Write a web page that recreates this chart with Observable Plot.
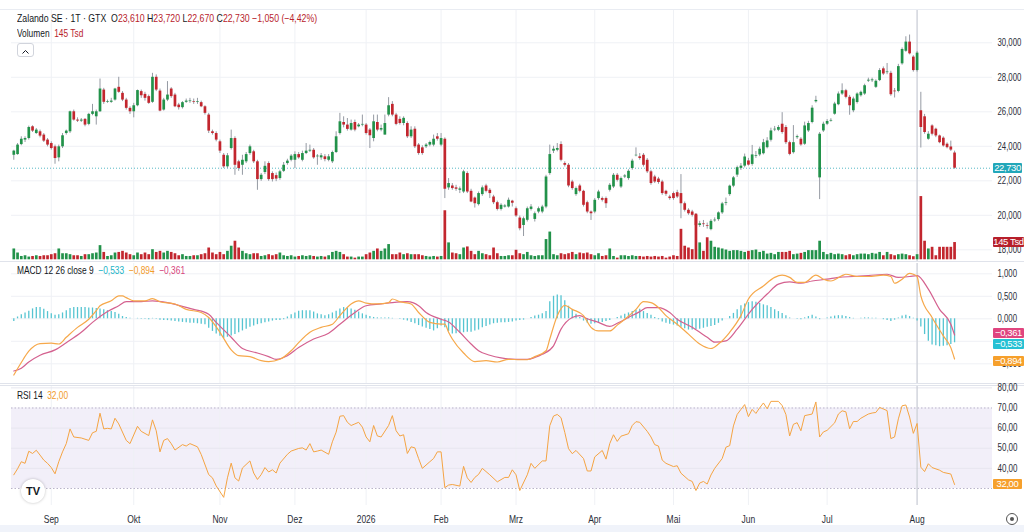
<!DOCTYPE html>
<html><head><meta charset="utf-8">
<script src="https://cdn.jsdelivr.net/npm/d3@7"></script>
<script src="https://cdn.jsdelivr.net/npm/@observablehq/plot@0.6"></script>
<style>
html,body{margin:0;padding:0;background:#fff;}
#root{position:relative;width:1024px;height:532px;overflow:hidden;background:#fff;
 font-family:"Liberation Sans",Arial,sans-serif;color:#131722;}
.hdr{position:absolute;left:17px;white-space:nowrap;font-size:11px;line-height:13px;transform:scaleX(0.76);transform-origin:0 0;}
.red{color:#b8232c;}
.box{position:absolute;left:993px;width:29px;height:10px;line-height:10px;font-size:9.5px;letter-spacing:-0.4px;color:#fff;text-align:center;border-radius:1px;white-space:nowrap;overflow:hidden;}
.sep{position:absolute;left:0;width:1024px;height:1px;background:#e0e3eb;}
</style></head>
<body><div id="root"></div>
<script>
// ---------- data (Zalando SE, daily, GTX) ----------
const candleOpen = [
23.48,23.52,24.10,24.36,24.45,25.13,24.74,24.84,24.65,24.36,
24.16,23.97,23.33,23.97,24.74,24.84,26.00,25.52,25.46,25.56,
25.27,25.85,25.71,26.00,27.26,26.55,26.55,26.68,27.42,27.07,
26.68,26.20,26.00,26.35,27.17,27.01,26.88,26.55,28.00,27.20,
26.10,26.68,27.32,26.97,26.39,26.24,26.55,26.59,26.59,26.55,
26.53,26.29,25.81,24.84,24.74,24.26,23.48,22.81,23.87,24.45,
23.10,22.90,23.10,23.58,23.68,23.10,22.07,22.48,23.00,22.42,
22.30,22.13,22.55,23.00,23.19,23.19,23.52,23.19,23.58,23.72,
23.77,23.39,23.33,23.39,23.19,23.10,23.64,24.74,25.38,25.23,
24.94,25.38,25.13,25.23,25.23,24.94,24.45,25.38,24.94,24.65,
25.81,26.43,25.81,25.56,25.32,25.32,24.55,24.99,24.07,23.91,
23.97,24.07,24.07,24.55,24.07,24.41,21.59,21.70,21.59,21.45,
21.35,22.42,21.39,21.00,20.62,21.20,21.70,21.45,21.06,20.73,
20.34,20.48,20.48,20.82,20.38,19.84,19.41,19.71,20.34,19.76,
20.19,20.19,20.48,22.42,23.72,23.77,24.10,23.00,22.90,21.93,
21.20,21.70,21.39,20.73,20.19,20.19,20.97,20.97,20.97,21.45,
21.64,22.32,21.64,22.22,22.13,22.71,23.45,23.39,23.48,23.19,
22.52,22.22,22.10,21.93,21.39,21.06,21.26,21.31,21.26,20.67,
20.29,20.19,20.00,19.41,19.50,19.40,19.17,19.68,19.75,20.14,
20.70,21.20,21.69,22.33,22.72,22.85,23.15,22.95,23.42,23.50,
23.57,23.92,24.35,24.95,24.93,25.28,25.09,24.21,23.63,24.50,
24.41,24.12,24.89,25.38,26.58,22.17,24.89,25.28,25.46,25.86,
26.41,27.03,27.22,26.84,26.06,26.54,26.93,27.03,27.78,27.80,
27.42,27.81,28.49,28.27,28.23,27.20,27.18,28.78,29.51,30.04,
29.17,28.39,26.06,25.71,24.41,25.18,24.99,24.60,24.47,24.12,
23.96,23.61];
const candleHigh = [
23.77,24.16,24.55,24.55,25.17,25.19,25.03,24.94,24.74,24.45,
24.26,24.07,24.07,24.74,24.94,26.04,26.10,25.65,25.61,25.61,
25.91,26.43,26.10,27.90,27.36,26.68,26.78,27.36,28.00,27.17,
26.78,26.29,26.49,27.26,27.26,27.13,26.97,28.23,28.14,27.32,
26.78,27.75,27.40,27.07,26.49,26.59,26.74,26.78,26.74,26.78,
26.62,26.35,25.91,24.94,24.84,24.36,23.58,23.58,24.94,24.55,
23.19,23.48,23.64,24.07,23.77,23.19,22.42,23.10,23.10,22.52,
22.45,22.61,23.06,23.25,23.52,23.68,23.64,23.72,24.16,24.07,
23.87,23.52,23.58,23.52,23.52,23.72,24.84,25.91,25.71,25.61,
25.52,25.52,25.32,25.81,25.32,25.03,25.81,25.81,25.23,25.81,
26.82,26.59,25.91,25.71,25.71,25.42,25.13,25.13,24.16,24.03,
24.16,24.30,24.65,24.74,24.74,24.49,22.13,21.84,21.74,21.64,
22.61,22.52,21.51,21.06,21.35,21.70,21.80,21.55,21.16,20.82,
20.67,20.62,21.00,20.87,20.48,19.96,19.90,20.48,20.62,20.19,
20.48,20.58,22.32,24.07,24.00,24.16,24.26,23.10,23.00,22.03,
21.64,21.80,21.45,20.82,20.25,20.97,21.45,21.06,21.06,21.84,
22.42,22.42,22.22,22.36,22.64,23.25,23.91,23.58,23.58,23.29,
22.61,22.32,22.20,22.03,21.45,21.16,21.35,21.45,22.36,20.77,
20.38,20.29,20.10,19.65,19.70,19.55,19.75,19.85,20.20,20.75,
21.00,21.75,22.25,22.85,23.00,23.55,23.30,24.05,23.70,23.95,
24.40,24.50,25.05,25.15,25.20,25.95,25.20,24.30,25.20,24.65,
24.50,25.40,25.45,26.35,26.90,24.80,25.40,25.55,25.60,26.55,
27.15,27.62,27.30,26.95,26.85,27.10,27.20,27.60,27.95,27.95,
27.85,28.50,28.60,28.80,28.35,27.35,28.75,29.70,30.35,30.45,
29.25,29.50,27.13,25.85,24.85,25.25,25.05,24.65,24.55,24.20,
24.30,23.72];
const candleLow = [
23.19,23.48,24.03,24.22,24.36,24.80,24.69,24.49,24.22,23.97,
23.78,22.96,23.10,23.87,24.65,24.74,25.46,25.38,25.38,25.13,
25.19,25.77,25.23,25.97,26.43,26.49,26.49,26.62,27.07,26.59,
26.10,25.85,25.65,26.29,26.78,26.62,26.43,26.49,27.17,26.00,
26.04,26.59,26.78,26.24,26.10,26.16,26.49,26.49,26.43,26.43,
26.24,25.81,24.74,24.65,24.26,23.58,22.71,22.71,23.78,22.32,
22.55,22.32,23.00,23.48,23.00,21.45,21.97,22.36,21.97,21.93,
21.95,22.03,22.48,22.90,23.10,22.71,23.25,23.10,23.52,23.64,
23.25,22.90,23.19,23.10,23.10,23.00,23.58,24.65,25.07,24.88,
24.88,24.84,25.07,25.13,24.65,23.87,24.26,24.84,24.84,24.65,
25.71,25.71,25.19,25.23,25.19,24.45,24.45,23.87,23.48,23.48,
23.87,23.97,23.97,24.30,23.97,20.97,21.45,21.45,21.39,21.26,
21.26,21.26,20.73,20.42,20.54,21.10,21.30,20.97,20.62,20.25,
20.25,20.42,20.42,20.48,19.88,19.10,18.77,19.61,20.25,19.61,
20.09,20.09,20.38,22.32,23.58,23.68,23.10,22.80,21.60,21.45,
21.10,21.30,20.48,20.09,19.70,20.09,20.87,20.77,20.40,21.35,
21.55,21.93,21.55,22.13,22.03,22.61,23.39,23.19,22.80,22.42,
21.74,21.84,21.80,21.16,21.10,20.87,20.87,20.97,19.80,20.19,
20.00,19.90,19.30,19.30,19.30,19.20,19.10,19.60,19.65,20.05,
20.55,21.10,21.60,22.20,22.60,22.75,22.85,22.85,23.30,23.40,
23.50,23.85,24.25,24.85,24.85,24.70,24.10,23.45,23.55,24.40,
24.00,24.05,24.80,25.30,26.50,20.91,24.80,25.20,25.40,25.80,
26.35,26.95,26.75,25.80,25.95,26.45,26.85,26.95,27.70,27.70,
27.35,27.75,28.10,28.15,26.90,26.80,27.10,28.70,29.45,29.30,
28.30,28.30,23.90,24.70,24.35,24.60,24.50,24.15,23.95,23.85,
23.70,22.67];
const candleClose = [
23.72,24.07,24.41,24.45,25.09,24.88,24.94,24.59,24.30,24.07,
23.87,23.29,23.97,24.61,24.88,26.00,25.52,25.46,25.52,25.23,
25.85,26.00,26.00,27.32,26.55,26.59,26.62,27.32,27.13,26.68,
26.20,26.00,26.35,27.23,26.93,26.78,26.49,28.00,27.26,26.04,
26.68,26.97,26.88,26.29,26.24,26.53,26.62,26.63,26.55,26.59,
26.29,25.91,24.88,24.74,24.36,23.72,22.81,23.45,24.45,22.90,
22.71,23.19,23.52,23.97,23.10,22.07,22.32,22.84,22.07,22.07,
22.10,22.52,22.90,23.14,23.43,23.52,23.33,23.58,23.72,23.77,
23.33,23.43,23.45,23.23,23.39,23.64,24.55,25.42,25.23,24.98,
25.32,24.94,25.23,25.27,24.74,24.61,25.42,24.94,25.03,25.32,
26.35,25.81,25.27,25.32,25.62,24.55,24.94,23.97,23.58,23.58,
24.07,24.22,24.41,24.41,24.45,21.51,21.84,21.55,21.51,21.53,
22.52,21.35,20.77,20.67,21.26,21.59,21.39,21.26,20.73,20.34,
20.58,20.54,20.87,20.70,19.96,19.22,19.80,20.38,20.48,20.09,
20.38,20.48,22.22,23.52,23.83,23.87,23.19,22.90,21.70,21.55,
21.55,21.39,20.58,20.19,20.09,20.87,21.35,20.87,20.67,21.74,
22.32,22.03,22.13,22.28,22.55,23.14,23.48,23.29,22.90,22.52,
21.84,21.93,21.90,21.26,21.22,20.97,20.97,21.06,20.67,20.29,
20.09,20.00,19.40,19.51,19.46,19.36,19.65,19.72,20.14,20.66,
20.74,21.69,22.17,22.76,22.85,23.38,22.91,23.50,23.46,23.83,
24.21,24.31,24.89,24.99,25.09,24.80,24.21,23.53,24.21,24.56,
24.08,25.18,25.32,26.21,26.66,24.70,25.28,25.44,25.50,26.45,
27.03,27.22,26.84,26.35,26.74,27.03,27.13,27.51,27.83,27.85,
27.77,28.39,28.19,28.31,26.99,27.16,28.62,29.61,30.04,29.36,
28.39,29.40,25.09,24.80,24.70,24.70,24.60,24.21,24.02,23.92,
23.78,22.73];
const volumeTsd = [
91,57,28,34,23,28,34,28,34,34, 43,51,91,51,51,43,34,34,28,43,
43,51,57,119,62,28,34,57,62,71, 57,43,34,57,43,57,43,85,62,71,
57,71,62,51,34,43,28,28,34,34, 43,51,99,57,43,62,43,71,114,156,
99,71,51,43,51,51,28,34,43,34, 43,57,34,28,34,23,28,34,28,34,
28,23,28,23,34,62,71,62,43,23, 23,14,23,23,43,57,71,91,71,91,
128,43,43,57,43,51,43,43,43,34, 28,23,28,23,28,412,142,57,51,43,
99,108,71,43,71,51,43,34,99,51, 28,28,34,34,80,51,43,62,34,28,
34,34,170,233,43,34,51,43,51,62, 43,57,51,57,43,34,51,28,34,91,
28,14,34,34,28,34,28,28,23,28, 23,28,23,28,14,23,34,28,256,114,
99,85,383,142,71,185,156,105,99,91, 82,71,77,77,71,62,71,77,82,62,
71,48,54,43,62,62,62,71,43,48, 54,62,77,77,77,156,62,43,54,43,
48,43,34,43,34,43,48,48,43,54, 48,62,34,62,43,34,43,48,43,34,
26,43,531,156,91,105,34,105,105,105, 105,145];
const macdHistogram = [
-0.06,0.04,0.09,0.13,0.17,0.22,0.25,0.25,0.21,0.16,
0.11,0.08,0.09,0.13,0.18,0.23,0.25,0.25,0.25,0.25,
0.24,0.24,0.23,0.22,0.20,0.18,0.16,0.14,0.10,0.05,
0.03,0.01,0.00,0.01,-0.01,-0.01,-0.02,0.01,-0.01,-0.03,
-0.04,-0.04,-0.05,-0.06,-0.07,-0.08,-0.09,-0.10,-0.10,-0.11,
-0.12,-0.13,-0.21,-0.28,-0.34,-0.39,-0.44,-0.41,-0.38,-0.35,
-0.31,-0.27,-0.23,-0.19,-0.16,-0.13,-0.11,-0.09,-0.07,-0.05,
-0.04,-0.04,-0.02,0.04,0.09,0.13,0.17,0.18,0.18,0.18,
0.15,0.11,0.09,0.07,0.09,0.13,0.17,0.22,0.25,0.24,
0.22,0.19,0.15,0.11,0.08,0.05,0.03,0.02,0.02,0.02,
0.02,0.01,0.00,-0.01,-0.03,-0.05,-0.08,-0.11,-0.15,-0.18,
-0.21,-0.24,-0.27,-0.22,-0.16,-0.20,-0.28,-0.34,-0.33,-0.32,
-0.31,-0.30,-0.30,-0.27,-0.25,-0.20,-0.17,-0.14,-0.11,-0.10,
-0.09,-0.09,-0.08,-0.07,-0.05,-0.04,-0.03,0.00,0.03,0.06,
0.08,0.11,0.16,0.38,0.50,0.53,0.51,0.40,0.28,0.20,
0.10,0.03,-0.05,-0.10,-0.12,-0.11,-0.10,-0.08,-0.06,-0.04,
0.00,0.03,0.06,0.10,0.13,0.16,0.19,0.21,0.16,0.12,
0.08,0.03,-0.02,-0.07,-0.10,-0.12,-0.14,-0.16,-0.19,-0.22,
-0.25,-0.25,-0.24,-0.23,-0.21,-0.19,-0.17,-0.15,-0.10,-0.05,
0.00,0.05,0.12,0.20,0.29,0.33,0.36,0.38,0.37,0.34,
0.31,0.29,0.25,0.20,0.16,0.12,0.07,0.02,0.00,-0.01,
-0.02,0.02,0.05,0.08,0.04,-0.02,0.00,0.02,0.04,0.06,
0.07,0.07,0.05,0.03,0.01,0.00,0.01,0.02,0.02,0.01,
0.01,0.00,-0.02,-0.04,-0.06,-0.03,0.02,0.06,0.08,0.05,
0.01,-0.05,-0.18,-0.35,-0.50,-0.58,-0.60,-0.62,-0.61,-0.60,
-0.57,-0.533];
const macdDays = [0,2,4,7,10,12,14,17,20,22,23,26,28,29,30,32,35,37,39,43,46,50,52,55,58,60,63,66,68,71,74,76,79,82,85,87,90,92,94,97,100,101,103,106,108,111,114,115,116,117,120,123,126,129,132,135,137,139,142,143,145,147,149,152,154,156,159,161,163,166,168,170,172,174,177,180,183,186,188,191,194,196,200,203,205,207,209,211,214,216,218,221,222,225,228,232,234,235,237,239,240,241,242,245,248,250,251];
const macdLine = [-1.25,-0.97,-0.72,-0.55,-0.54,-0.56,-0.41,-0.19,-0.01,0.18,0.29,0.40,0.51,0.51,0.47,0.40,0.40,0.45,0.38,0.33,0.21,0.14,0.03,-0.30,-0.69,-0.82,-0.84,-0.93,-0.95,-0.90,-0.71,-0.53,-0.30,-0.19,-0.12,0.07,0.33,0.40,0.35,0.33,0.36,0.44,0.38,0.33,0.14,-0.08,-0.12,-0.12,-0.30,-0.45,-0.76,-0.95,-0.93,-0.96,-0.90,-0.91,-0.91,-0.84,-0.71,-0.45,0.07,0.30,0.21,0.07,-0.19,-0.27,-0.27,-0.14,-0.01,0.21,0.38,0.36,0.25,0.07,-0.12,-0.34,-0.56,-0.66,-0.56,-0.30,0.07,0.44,0.73,0.92,0.97,0.92,0.81,0.81,0.97,0.88,0.84,0.96,0.99,0.94,0.94,0.97,0.94,0.79,0.88,1.01,0.99,0.94,0.51,0.03,-0.38,-0.64,-0.894];
const signalDays = [0,2,4,7,11,14,18,21,25,28,30,34,37,41,44,48,52,54,58,61,65,68,70,73,76,80,84,87,91,94,98,101,105,108,110,114,116,119,122,124,127,130,134,137,139,141,144,146,149,151,153,156,159,161,164,167,169,172,175,177,181,185,187,190,193,197,201,204,207,210,213,217,220,224,228,233,236,239,241,244,247,250,251];
const signalLine = [-1.16,-1.10,-0.96,-0.81,-0.69,-0.53,-0.30,-0.08,0.16,0.29,0.38,0.38,0.40,0.36,0.30,0.21,0.10,-0.08,-0.41,-0.66,-0.76,-0.84,-0.90,-0.82,-0.64,-0.45,-0.32,-0.12,0.14,0.29,0.33,0.36,0.38,0.29,0.14,-0.01,-0.07,-0.30,-0.56,-0.71,-0.81,-0.87,-0.90,-0.90,-0.86,-0.79,-0.60,-0.23,0.03,0.07,0.00,-0.08,-0.17,-0.10,0.03,0.16,0.25,0.25,0.14,-0.01,-0.19,-0.41,-0.52,-0.49,-0.23,0.21,0.55,0.77,0.82,0.79,0.84,0.88,0.92,0.94,0.96,0.99,0.92,0.94,0.96,0.66,0.21,-0.12,-0.361];
const rsiDays = [0,1,2,3,4,5,6,7,8,9,10,11,12,13,14,15,16,18,20,21,22,23,24,25,26,27,28,30,31,33,34,36,37,38,39,40,41,42,43,45,46,47,49,50,52,53,54,56,57,58,59,60,61,63,64,65,66,67,68,69,70,71,73,74,76,77,78,79,80,81,82,84,85,86,87,88,89,90,91,92,93,94,95,96,97,98,100,101,102,103,104,105,106,107,108,109,111,112,113,114,115,116,117,119,120,121,122,123,124,125,127,129,131,132,133,134,135,137,138,139,141,142,143,144,145,146,147,148,149,150,152,153,154,155,157,158,159,160,161,162,164,165,166,167,169,170,171,172,173,174,176,177,178,180,181,182,183,184,185,186,187,189,190,191,192,193,194,195,196,197,198,199,200,201,202,204,205,206,207,208,209,210,211,213,214,215,216,217,219,220,221,222,223,224,225,226,228,229,230,231,232,233,234,235,236,237,238,239,240,241,242,243,244,245,247,248,250,251];
const rsiValues = [36.8,39.8,43.3,42.5,48.5,47.4,49.0,46.6,44.1,42.5,40.4,37.3,43.3,48.2,52.3,59.6,55.6,55.1,53.9,57.7,58.4,67.4,59.6,59.9,59.6,64.9,62.1,53.9,52.3,60.9,58.4,56.3,64.1,58.7,48.2,53.9,54.8,52.3,49.1,51.8,51.1,52.3,50.7,46.9,36.9,35.3,31.3,25.6,35.3,42.6,35.3,33.7,40.2,43.7,37.7,34.5,36.9,40.4,38.2,39.3,37.7,42.6,47.0,48.6,49.9,50.2,49.1,52.3,48.2,48.6,49.1,47.0,53.2,58.0,65.9,66.2,62.9,61.3,62.1,62.9,60.5,55.6,53.2,61.3,56.1,55.6,61.3,66.2,58.7,56.1,56.7,47.4,50.7,50.2,44.9,40.0,43.3,44.9,48.2,48.2,30.4,31.7,32.0,31.2,41.0,35.3,33.0,35.5,37.0,40.0,36.8,33.3,35.5,35.5,39.3,36.8,29.0,36.8,42.5,40.0,43.7,43.7,61.2,66.0,66.8,65.2,57.9,49.8,47.3,48.9,44.9,38.7,38.7,45.7,48.9,44.6,52.3,56.7,53.4,56.0,57.2,61.3,63.2,62.9,58.4,55.6,51.8,51.1,44.1,42.5,40.9,41.3,37.6,34.3,33.5,29.0,32.7,33.5,32.2,36.7,40.0,44.9,50.5,51.3,61.1,66.8,69.3,71.7,65.7,69.3,67.3,70.1,72.5,69.6,73.3,73.3,71.2,66.8,56.1,61.9,62.7,58.7,66.2,67.0,73.0,55.6,58.1,58.9,62.6,67.0,68.6,68.1,59.7,63.3,63.3,64.9,67.0,67.5,67.8,70.3,69.5,68.7,54.8,55.6,64.6,71.1,71.5,65.5,57.4,62.3,40.6,38.4,42.3,40.4,39.1,38.0,37.2,32.0];
const monthTickDays = [10,32,55,75,94,114,134,155,176,196,217,241];
const monthTickLabels = ["Sep","Okt","Nov","Dez","2026","Feb","Mrz","Apr","Mai","Jun","Jul","Aug"];
const priceTicks = [18,20,22,24,26,28,30];
const macdTicks = [1,0.5,0,-0.5,-1];
const macdLabelTicks = [1,0.5,0,-1];
const rsiLabelTicks = [80,70,60,50,40];
const rsiBand = [30,70];
const crosshairDay = 241;

// ---------- layout / styles ----------
const UP = "#22924a", DOWN = "#c2262e", WICK = "#959aa3", GRID = "#eff1f5";
const FONT = '"Liberation Sans",Arial,sans-serif';
const xDomain = [-0.614, 261.12];
const W = 1024, ML = 11, MR = 32;
const fmtDec = n => d => (d < 0 ? "\u2212" : "") + Math.abs(d).toFixed(n).replace(".", ",");

const bars = candleOpen.map((o, i) => ({
  i, o, h: candleHigh[i], l: candleLow[i], c: candleClose[i],
  v: volumeTsd[i], hist: macdHistogram[i],
  col: candleClose[i] >= o ? UP : DOWN
}));
const macdPts = macdDays.map((d, k) => ({d, v: macdLine[k]}));
const sigPts = signalDays.map((d, k) => ({d, v: signalLine[k]}));
const rsiPts = rsiDays.map((d, k) => ({d, v: rsiValues[k]}));
const lastClose = candleClose[candleClose.length - 1];
const labelOf = new Map(monthTickDays.map((d, k) => [d, monthTickLabels[k]]));

const root = document.getElementById("root");
function place(el, top) { el.style.position = "absolute"; el.style.left = "0px"; el.style.top = top + "px"; root.appendChild(el); return el; }
function div(cls, css, html) { const e = document.createElement("div"); if (cls) e.className = cls; Object.assign(e.style, css); e.innerHTML = html || ""; root.appendChild(e); return e; }
// narrow the axis label glyphs horizontally (keeps each label anchored)
function narrow(svg, sel, k) {
  svg.querySelectorAll(sel).forEach(t => {
    const tr = t.getAttribute("transform") || "";
    t.setAttribute("transform", tr + ` scale(${k},1)`);
  });
}
const baseStyle = {background: "transparent", fontFamily: FONT, fontSize: "10px", color: "#2a2e39", overflow: "visible"};
const xOpt = {type: "linear", domain: xDomain, axis: null};
const YSEL = 'g[aria-label="y-axis tick label"] text';

// top toolbar edge
div("sep", {top: "9px", background: "#e9ecf2"});

// price pane
const TOP_P = 10, H_P = 251;
const priceChart = Plot.plot({
  width: W, height: H_P, marginLeft: ML, marginRight: MR, marginTop: 0, marginBottom: 0,
  x: xOpt, y: {domain: [17.322, 31.872], axis: null, label: null}, color: {type: "identity"},
  style: baseStyle,
  marks: [
    Plot.ruleX(monthTickDays, {stroke: GRID}),
    Plot.ruleY(priceTicks, {stroke: GRID}),
    Plot.ruleX([crosshairDay], {stroke: "#c3c7cf"}),
    Plot.ruleY([lastClose], {stroke: "#2aa6b6", strokeDasharray: "1,2", strokeOpacity: 0.8}),
    Plot.ruleX(bars, {x: "i", y1: "l", y2: "h", stroke: WICK, strokeWidth: 1}),
    Plot.ruleX(bars, {x: "i", y1: "o", y2: "c", stroke: "col", strokeWidth: 2.7}),
    Plot.axisY(priceTicks, {anchor: "right", tickSize: 0, tickPadding: 5, tickFormat: fmtDec(3), label: null})
  ]
});
narrow(priceChart, YSEL, 0.78);
place(priceChart, TOP_P);

// volume overlay
const volChart = Plot.plot({
  width: W, height: H_P, marginLeft: ML, marginRight: MR, marginTop: 0, marginBottom: 1.7,
  x: xOpt, y: {domain: [0, 2094], axis: null, label: null}, color: {type: "identity"},
  style: baseStyle,
  marks: [Plot.ruleX(bars, {x: "i", y1: 0, y2: "v", stroke: "col", strokeWidth: 2.7})]
});
place(volChart, TOP_P);

div("sep", {top: "261px"});

// MACD pane
const TOP_M = 263, H_M = 120;
const macdChart = Plot.plot({
  width: W, height: H_M, marginLeft: ML, marginRight: MR, marginTop: 0, marginBottom: 0,
  x: xOpt, y: {domain: [-1.4378, 1.2289], axis: null, label: null},
  style: baseStyle,
  marks: [
    Plot.ruleX(monthTickDays, {stroke: GRID}),
    Plot.ruleY(macdTicks, {stroke: GRID}),
    Plot.ruleX([crosshairDay], {stroke: "#c3c7cf"}),
    Plot.ruleX(bars, {x: "i", y1: 0, y2: "hist", stroke: "#55c4d1", strokeWidth: 1.3}),
    Plot.line(sigPts, {x: "d", y: "v", stroke: "#d4618f", strokeWidth: 1.2, curve: "monotone-x"}),
    Plot.line(macdPts, {x: "d", y: "v", stroke: "#f6a84a", strokeWidth: 1.2, curve: "monotone-x"}),
    Plot.axisY(macdLabelTicks, {anchor: "right", tickSize: 0, tickPadding: 5, tickFormat: fmtDec(3), label: null})
  ]
});
narrow(macdChart, YSEL, 0.78);
place(macdChart, TOP_M);

div("sep", {top: "383px"});
div("sep", {top: "385px"});

// RSI pane + time axis
const TOP_R = 386, H_R = 139;
const rsiChart = Plot.plot({
  width: W, height: H_R, marginLeft: ML, marginRight: MR, marginTop: 0, marginBottom: 20,
  x: xOpt, y: {domain: [21.55, 80.683], axis: null, label: null},
  style: baseStyle,
  marks: [
    Plot.rect([rsiBand], {x1: xDomain[0], x2: xDomain[1], y1: d => d[0], y2: d => d[1], fill: "#f2eff9"}),
    Plot.ruleX(monthTickDays, {stroke: GRID}),
    Plot.ruleY([80, 60, 50, 40], {stroke: "#e7e6ef"}),
    Plot.ruleY(rsiBand, {stroke: "#b9b3c9", strokeDasharray: "1.5,2"}),
    Plot.ruleX([crosshairDay], {stroke: "#c3c7cf"}),
    Plot.line(rsiPts, {x: "d", y: "v", stroke: "#f5a443", strokeWidth: 1}),
    Plot.axisY(rsiLabelTicks, {anchor: "right", tickSize: 0, tickPadding: 5, tickFormat: fmtDec(2), label: null}),
    Plot.axisX(monthTickDays, {anchor: "bottom", tickSize: 0, tickPadding: 10, tickFormat: d => labelOf.get(d), label: null})
  ]
});
narrow(rsiChart, YSEL, 0.8);
narrow(rsiChart, 'g[aria-label="x-axis tick label"] text', 0.85);
place(rsiChart, TOP_R);

// bottom strip
div(null, {position: "absolute", left: "0px", top: "525px", width: "1024px", height: "7px", background: "#f0f3fa"});

// value boxes on right scale
function box(text, bg, centerY, w) {
  div("box", {top: (centerY - 5) + "px", background: bg, width: (w || 29) + "px"}, text);
}
box(fmtDec(3)(lastClose), "#22a7b9", TOP_P + priceChart.scale("y").apply(lastClose));
box(volumeTsd[volumeTsd.length - 1] + " Tsd", "#b71f2b", TOP_P + volChart.scale("y").apply(volumeTsd[volumeTsd.length - 1]), 31);
const my = macdChart.scale("y");
box(fmtDec(3)(signalLine[signalLine.length - 1]), "#e0457f", TOP_M + my.apply(signalLine[signalLine.length - 1]) - 1.5, 31);
box(fmtDec(3)(macdHistogram[macdHistogram.length - 1]), "#26c1d4", TOP_M + my.apply(macdHistogram[macdHistogram.length - 1]) + 1.5, 31);
box(fmtDec(3)(macdLine[macdLine.length - 1]), "#f6a02c", TOP_M + my.apply(macdLine[macdLine.length - 1]) + 2, 31);
box(fmtDec(2)(rsiValues[rsiValues.length - 1]), "#f6a02c", TOP_R + rsiChart.scale("y").apply(rsiValues[rsiValues.length - 1]), 29);

// headers
const o = candleOpen.at(-1), h = candleHigh.at(-1), l = candleLow.at(-1), c = candleClose.at(-1);
const prev = candleClose.at(-2), ch = c - prev, pct = ch / prev * 100;
const f3 = fmtDec(3);
div("hdr", {top: "12px", fontSize: "11.5px"},
  'Zalando SE \u00b7 1T \u00b7 GTX&nbsp; O<span class="red">' + f3(o) + '</span> H<span class="red">' + f3(h) +
  '</span> L<span class="red">' + f3(l) + '</span> C<span class="red">' + f3(c) + '</span> <span class="red">' +
  f3(ch) + ' (' + fmtDec(2)(pct) + '%)</span>');
div("hdr", {top: "27px", fontSize: "11px"}, 'Volumen&nbsp; <span class="red">' + volumeTsd.at(-1) + ' Tsd</span>');
div(null, {position: "absolute", left: "17px", top: "43px", width: "15px", height: "12px", border: "1px solid #d1d4dc", borderRadius: "3px", background: "#fff"},
  '<svg width="15" height="12"><polyline points="4.5,7.5 7.5,4.5 10.5,7.5" fill="none" stroke="#131722" stroke-width="1"/></svg>');
div("hdr", {top: "264px", fontSize: "11px"},
  'MACD 12 26 close 9&nbsp; <span style="color:#22b3c6">' + f3(macdHistogram.at(-1)) + '</span>&nbsp; <span style="color:#f19a2a">' +
  f3(macdLine.at(-1)) + '</span>&nbsp; <span style="color:#d6457d">' + f3(signalLine.at(-1)) + '</span>');
div("hdr", {top: "389px", fontSize: "11px"}, 'RSI 14&nbsp; <span style="color:#f19a2a">' + fmtDec(2)(rsiValues.at(-1)) + '</span>');

// TradingView logo + settings icon
div(null, {position: "absolute", left: "21px", top: "479px", width: "24px", height: "24px", borderRadius: "50%", background: "#fff",
  boxShadow: "0 0 3px rgba(0,0,0,0.25)", textAlign: "center", lineHeight: "24px", fontWeight: "bold", fontSize: "11px", fontFamily: "Arial,sans-serif", color: "#131722"}, "TV");
div(null, {position: "absolute", left: "1006px", top: "513px", width: "10px", height: "10px", borderRadius: "50%", border: "1px solid #555"},
  '<div style="position:absolute;left:3px;top:3px;width:4px;height:4px;border-radius:50%;background:#555"></div>');
</script>
</body></html>
